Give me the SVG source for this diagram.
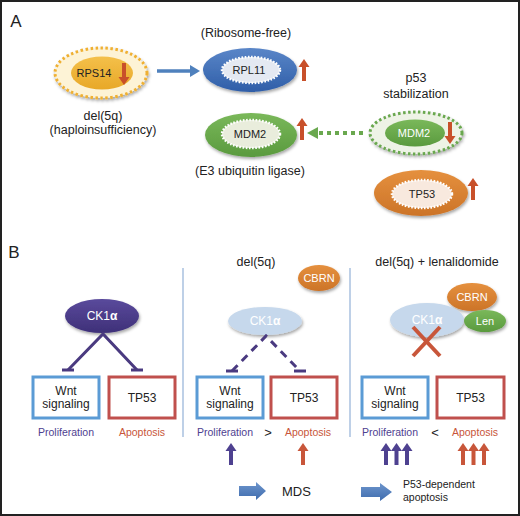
<svg xmlns="http://www.w3.org/2000/svg" width="520" height="516" viewBox="0 0 520 516">
<defs>
<style>
text{font-family:"Liberation Sans",Arial,sans-serif;fill:#222;text-anchor:middle}
.lbl{font-size:12.5px}
.node{font-size:11px}
.wt{fill:#fff}
.box{fill:#fff;stroke-width:3}
.wbox{stroke:#5b9bd5}
.tbox{stroke:#c0504d}
.pro{fill:#4e4190;font-size:10.5px}
.apo{fill:#c8563a;font-size:10.5px}
.inner{stroke:#fff;stroke-width:2.5;stroke-dasharray:1.6 1.6}
.sep{stroke:#a9c1df;stroke-width:1.5}
</style>
<filter id="sh" x="-20%" y="-20%" width="140%" height="150%">
<feDropShadow dx="1" dy="2" stdDeviation="1.5" flood-color="#000" flood-opacity="0.35"/>
</filter>
<linearGradient id="gBlue" x1="0" y1="0" x2="0" y2="1"><stop offset="0" stop-color="#5a86c8"/><stop offset="1" stop-color="#2f5ea8"/></linearGradient>
<linearGradient id="gGreen" x1="0" y1="0" x2="0" y2="1"><stop offset="0" stop-color="#7ab85a"/><stop offset="1" stop-color="#5a9a3e"/></linearGradient>
<linearGradient id="gOrange" x1="0" y1="0" x2="0" y2="1"><stop offset="0" stop-color="#e5903e"/><stop offset="1" stop-color="#cc7428"/></linearGradient>
<linearGradient id="gGold" x1="0" y1="0" x2="0" y2="1"><stop offset="0" stop-color="#f4c04a"/><stop offset="1" stop-color="#e8a828"/></linearGradient>
<linearGradient id="gPurple" x1="0" y1="0" x2="0" y2="1"><stop offset="0" stop-color="#5a4a9c"/><stop offset="1" stop-color="#3e3078"/></linearGradient>
<linearGradient id="gBlock" x1="0" y1="0" x2="0" y2="1"><stop offset="0" stop-color="#6d95cc"/><stop offset="1" stop-color="#3f6cae"/></linearGradient>
<path id="up" d="M0,0 L5.5,8 L2,8 L2,22 L-2,22 L-2,8 L-5.5,8 Z"/>
</defs>
<rect x="1" y="1" width="518" height="514" fill="#fff" stroke="#222" stroke-width="2"/>

<!-- Panel A -->
<text x="16" y="27" style="font-size:17px">A</text>

<g id="rps14">
<ellipse cx="101" cy="73" rx="46" ry="25" fill="#fdf3d6" stroke="#efb033" stroke-width="3" stroke-dasharray="2.5 2.5" filter="url(#sh)"/>
<ellipse cx="102" cy="73" rx="31" ry="16.5" fill="url(#gGold)"/>
<text x="94" y="77" class="node">RPS14</text>
<use href="#up" transform="translate(124,85) rotate(180)" fill="#c8502a"/>
</g>
<text x="103" y="120" class="lbl">del(5q)</text>
<text x="103" y="134" class="lbl">(haploinsufficiency)</text>

<g id="rpl11">
<ellipse cx="250" cy="70" rx="47" ry="22" fill="url(#gBlue)" filter="url(#sh)"/>
<ellipse cx="251" cy="70" rx="29" ry="13" fill="#e4e9f2" class="inner"/>
<text x="249" y="74" class="node">RPL11</text>
<use href="#up" transform="translate(304,59)" fill="#c8502a"/>
</g>
<text x="246" y="37" class="lbl">(Ribosome-free)</text>

<g id="mdm2-left">
<ellipse cx="251" cy="135" rx="46" ry="22" fill="url(#gGreen)" filter="url(#sh)"/>
<ellipse cx="251" cy="134" rx="29" ry="14" fill="#e9eddc" class="inner"/>
<text x="250" y="138" class="node">MDM2</text>
<use href="#up" transform="translate(302,118)" fill="#c8502a"/>
</g>
<text x="250" y="175" class="lbl">(E3 ubiquitin ligase)</text>

<text x="416" y="82" class="lbl">p53</text>
<text x="416" y="98" class="lbl">stabilization</text>

<g id="mdm2-right">
<ellipse cx="416" cy="133" rx="46" ry="21" fill="#eef3e6" stroke="#6aa84f" stroke-width="3" stroke-dasharray="2.5 2.5" filter="url(#sh)"/>
<ellipse cx="415" cy="133" rx="30" ry="13.5" fill="url(#gGreen)"/>
<text x="414" y="137" class="node wt">MDM2</text>
<use href="#up" transform="translate(450,144) rotate(180)" fill="#c8502a"/>
</g>

<g id="tp53-a">
<ellipse cx="421" cy="193" rx="47" ry="23" fill="url(#gOrange)" filter="url(#sh)"/>
<ellipse cx="422" cy="194" rx="30" ry="14" fill="#f8e9de" class="inner"/>
<text x="422" y="198" class="node">TP53</text>
<use href="#up" transform="translate(473,178)" fill="#c8502a"/>
</g>

<g id="connectors-a">
<line x1="157" y1="71" x2="191" y2="71" stroke="#4f81bd" stroke-width="3.5"/>
<polygon points="200,71 190,65 190,77" fill="#4f81bd"/>
<line x1="363" y1="133" x2="319" y2="133" stroke="#6aa84f" stroke-width="4" stroke-dasharray="4 4"/>
<polygon points="307,133 318,127 318,139" fill="#6aa84f"/>
</g>

<!-- Panel B -->
<text x="14" y="258" style="font-size:17px">B</text>
<line x1="183" y1="268" x2="183" y2="437" class="sep"/>
<line x1="350" y1="268" x2="350" y2="437" class="sep"/>

<g id="ck1a-left">
<ellipse cx="102" cy="316" rx="37" ry="17" fill="url(#gPurple)" filter="url(#sh)"/>
<text x="102" y="320" class="node wt" style="font-size:12px">CK1<tspan font-weight="bold">α</tspan></text>
</g>
<g id="wnt-left"><rect x="33" y="377" width="66" height="41" class="box wbox"/>
<text x="66" y="395" style="font-size:12px">Wnt</text><text x="66" y="408" style="font-size:12px">signaling</text></g>
<g id="tp53-left"><rect x="109" y="377" width="66" height="41" class="box tbox"/>
<text x="142" y="402" style="font-size:12px">TP53</text></g>
<text x="66" y="436" class="pro">Proliferation</text>
<text x="142" y="436" class="apo">Apoptosis</text>

<text x="256" y="266" class="lbl">del(5q)</text>
<g id="cbrn-mid">
<ellipse cx="319" cy="278" rx="21" ry="13" fill="url(#gOrange)" filter="url(#sh)"/>
<text x="319" y="282" class="node wt">CBRN</text>
</g>
<g id="ck1a-mid">
<ellipse cx="265" cy="321" rx="37" ry="14" fill="#c6d8ec" filter="url(#sh)"/>
<text x="265" y="325" class="node wt" style="font-size:12px">CK1<tspan font-weight="bold">α</tspan></text>
</g>
<g id="wnt-mid"><rect x="197" y="377" width="66" height="41" class="box wbox"/>
<text x="230" y="395" style="font-size:12px">Wnt</text><text x="230" y="408" style="font-size:12px">signaling</text></g>
<g id="tp53-mid"><rect x="271" y="377" width="66" height="41" class="box tbox"/>
<text x="304" y="402" style="font-size:12px">TP53</text></g>
<text x="225" y="436" class="pro">Proliferation</text>
<text x="268" y="437" style="font-size:13px">&gt;</text>
<text x="308" y="436" class="apo">Apoptosis</text>
<g id="arrows-mid">
<use href="#up" transform="translate(231,443)" fill="#4e4190"/>
<use href="#up" transform="translate(303,443)" fill="#c8563a"/>
</g>
<g id="mds">
<polygon points="239,486 256,486 256,482 266,491 256,500 256,496 239,496" fill="url(#gBlock)"/>
<text x="282" y="496" style="font-size:13px;text-anchor:start">MDS</text>
</g>

<text x="437" y="266" class="lbl">del(5q) + lenalidomide</text>
<g id="cbrn-right">
<ellipse cx="472" cy="297" rx="25" ry="14" fill="url(#gOrange)" filter="url(#sh)"/>
<text x="472" y="301" class="node wt">CBRN</text>
</g>
<g id="ck1a-right">
<ellipse cx="427" cy="320" rx="37" ry="17" fill="#c6d8ec" filter="url(#sh)"/>
<text x="427" y="324" class="node wt" style="font-size:12px">CK1<tspan font-weight="bold">α</tspan></text>
</g>
<g id="len">
<ellipse cx="485" cy="321" rx="21" ry="11" fill="url(#gGreen)" filter="url(#sh)"/>
<text x="485" y="325" class="node wt">Len</text>
</g>
<g id="cross">
<line x1="413" y1="327" x2="440" y2="356" stroke="#c8563a" stroke-width="4"/>
<line x1="440" y1="327" x2="413" y2="356" stroke="#c8563a" stroke-width="4"/>
</g>
<g id="wnt-right"><rect x="362" y="377" width="66" height="41" class="box wbox"/>
<text x="395" y="395" style="font-size:12px">Wnt</text><text x="395" y="408" style="font-size:12px">signaling</text></g>
<g id="tp53-right"><rect x="437" y="377" width="67" height="41" class="box tbox"/>
<text x="470.5" y="402" style="font-size:12px">TP53</text></g>
<text x="390" y="436" class="pro">Proliferation</text>
<text x="435" y="437" style="font-size:13px">&lt;</text>
<text x="475" y="436" class="apo">Apoptosis</text>
<g id="arrows-right">
<use href="#up" transform="translate(386,443)" fill="#4e4190"/>
<use href="#up" transform="translate(396.5,443)" fill="#4e4190"/>
<use href="#up" transform="translate(407,443)" fill="#4e4190"/>
<use href="#up" transform="translate(463,443)" fill="#c8563a"/>
<use href="#up" transform="translate(473.5,443)" fill="#c8563a"/>
<use href="#up" transform="translate(484,443)" fill="#c8563a"/>
</g>
<g id="p53-apoptosis">
<polygon points="361,487 380,487 380,483 392,492 380,501 380,497 361,497" fill="url(#gBlock)"/>
<text x="403" y="488" style="font-size:10.5px;text-anchor:start">P53-dependent</text>
<text x="403" y="501" style="font-size:10.5px;text-anchor:start">apoptosis</text>
</g>

<g id="connectors-b">
<g stroke="#4a3a80" stroke-width="3" fill="none">
<polyline points="68,370 103,334 137,370"/>
<line x1="62" y1="370" x2="74" y2="370"/>
<line x1="131" y1="370" x2="143" y2="370"/>
</g>
<g stroke="#4a3a80" stroke-width="3" fill="none">
<polyline points="232,371 266,336 300,371" stroke-dasharray="8 6"/>
<line x1="226" y1="371" x2="238" y2="371"/>
<line x1="294" y1="371" x2="306" y2="371"/>
</g>
</g>
</svg>
